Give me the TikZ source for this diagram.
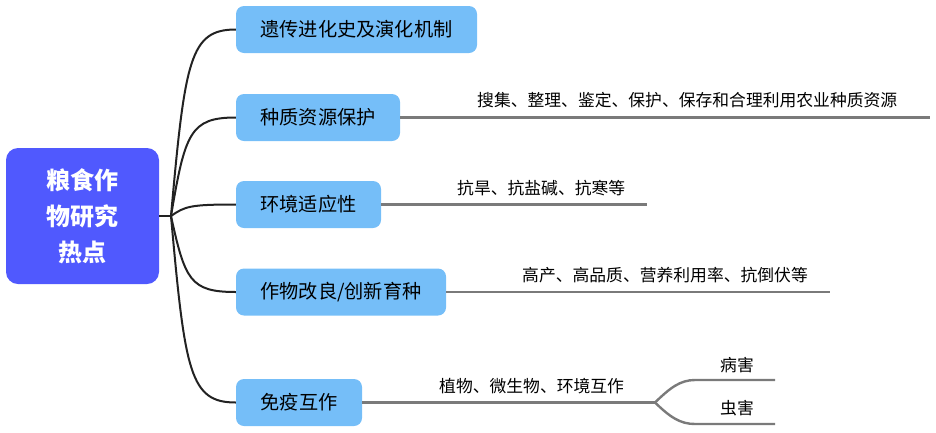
\documentclass[tikz,border=0pt]{standalone}
\usepackage{fontspec}
\setmainfont{Noto Sans CJK SC}
\definecolor{rootblue}{HTML}{5059FE}
\definecolor{nodeblue}{HTML}{75BEF8}
\definecolor{darkline}{HTML}{222222}
\definecolor{greyline}{HTML}{7A7A7A}
\begin{document}
\begin{tikzpicture}[x=1pt,y=-1pt,
  rootbox/.style={fill=rootblue,rounded corners=12pt,text=white,font=\fontsize{24}{36}\selectfont\bfseries,align=center,inner sep=0pt},
  branchbox/.style={fill=nodeblue,rounded corners=8pt,text=black,font=\fontsize{19.2}{22}\selectfont,inner sep=0pt,minimum height=47pt},
  sublabel/.style={font=\fontsize{16.8}{20}\selectfont,inner sep=0pt,text=black},
  trunk/.style={draw=darkline,line width=2pt},
  subline/.style={draw=greyline,line width=2.4pt}]
\useasboundingbox (0,0) rectangle (936,432);
% root
\node[rootbox,minimum width=153pt,minimum height=136pt] (root) at (82.5,216) {粮食作\\物研究\\热点};
\coordinate (J) at (171,216);
% branches
\node[branchbox,minimum width=241pt] (n1) at (356.5,29.5) {遗传进化史及演化机制};
\node[branchbox,minimum width=164pt] (n2) at (318,117.5) {种质资源保护};
\node[branchbox,minimum width=145pt] (n3) at (308.5,204.5) {环境适应性};
\node[branchbox,minimum width=210pt] (n4) at (341,292) {作物改良/创新育种};
\node[branchbox,minimum width=126pt] (n5) at (299,402.5) {免疫互作};
% trunk connectors
\draw[trunk] (root.east) -- (J);
\draw[trunk] (J) .. controls (185,59.3) and (190,29.5) .. (n1.west);
\draw[trunk] (J) .. controls (185,133.3) and (190,117.5) .. (n2.west);
\draw[trunk] (J) .. controls (185,206.3) and (190,204.5) .. (n3.west);
\draw[trunk] (J) .. controls (185,279.8) and (190,292) .. (n4.west);
\draw[trunk] (J) .. controls (185,372.7) and (190,402.5) .. (n5.west);
% sub lines
\coordinate (e2) at (930,117.5);
\coordinate (e3) at (647,204.5);
\coordinate (e4) at (830,292);
\coordinate (F) at (655,402.5);
\coordinate (e5a) at (775,380);
\coordinate (e5b) at (775,424);
\draw[subline] (n2.east) -- (e2);
\draw[subline] (n3.east) -- (e3);
\draw[subline] (n4.east) -- (e4);
\draw[subline] (n5.east) -- (F);
\draw[subline] (F) .. controls (670,388) and (680,380) .. (695,380) -- (e5a);
\draw[subline] (F) .. controls (670,417) and (680,424) .. (695,424) -- (e5b);
% labels
\node[sublabel,anchor=west] (l2) at (477,100.5) {搜集、整理、鉴定、保护、保存和合理利用农业种质资源};
\node[sublabel,anchor=west] (l3) at (457,188) {抗旱、抗盐碱、抗寒等};
\node[sublabel,anchor=west] (l4) at (522,275) {高产、高品质、营养利用率、抗倒伏等};
\node[sublabel,anchor=west] (l5) at (439,386) {植物、微生物、环境互作};
\node[sublabel] (l5a) at (737,365) {病害};
\node[sublabel] (l5b) at (737,408) {虫害};
\end{tikzpicture}
\end{document}
